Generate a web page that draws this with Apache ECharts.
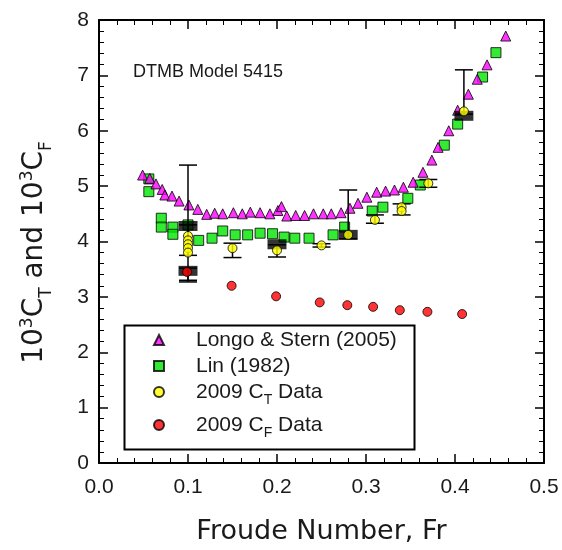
<!DOCTYPE html>
<html>
<head>
<meta charset="utf-8">
<script src="https://cdn.jsdelivr.net/npm/echarts@6/dist/echarts.min.js"></script>
<style>
html,body{margin:0;padding:0;background:#fff;}
#chart{width:562px;height:550px;}
</style>
</head>
<body>
<div id="chart"></div>
<script>
// ---- data (Froude number, 10^3 C) ----
var longoFr = [0.049,0.057,0.064,0.071,0.074,0.082,0.090,0.101,0.111,0.121,0.130,0.139,0.151,0.161,0.170,0.181,0.192,0.201,0.205,0.211,0.221,0.231,0.241,0.252,0.261,0.272,0.282,0.291,0.301,0.312,0.322,0.332,0.342,0.353,0.364,0.374,0.381,0.393,0.403,0.415,0.425,0.436,0.457];
var longoC  = [5.20,5.14,5.04,4.94,4.84,4.82,4.73,4.66,4.58,4.49,4.51,4.50,4.52,4.50,4.53,4.52,4.50,4.56,4.63,4.46,4.47,4.47,4.50,4.50,4.50,4.52,4.60,4.69,4.80,4.89,4.91,4.93,4.98,5.07,5.25,5.47,5.70,6.00,6.37,6.66,6.93,7.19,7.71];

var linFr = [0.056,0.056,0.070,0.070,0.083,0.083,0.100,0.112,0.127,0.139,0.153,0.167,0.181,0.195,0.208,0.220,0.236,0.263,0.276,0.307,0.319,0.347,0.361,0.388,0.403,0.431,0.446];
var linC  = [5.13,4.90,4.42,4.26,4.26,4.13,4.30,4.02,4.06,4.19,4.12,4.12,4.15,4.14,4.08,4.06,4.06,4.12,4.26,4.55,4.62,4.78,5.02,5.74,6.12,6.97,7.41];

var ctFr = [0.100,0.100,0.100,0.100,0.100,0.150,0.200,0.250,0.280,0.310,0.340,0.340,0.370,0.410];
var ctC  = [4.10,4.02,3.95,3.88,3.80,3.88,3.84,3.93,4.12,4.39,4.62,4.55,5.05,6.35];

var cfFr = [0.099,0.149,0.199,0.248,0.279,0.308,0.338,0.369,0.408];
var cfC  = [3.45,3.20,3.01,2.90,2.85,2.82,2.76,2.73,2.69];

// uncertainty bars (Fr, low, high)
var ebFr   = [0.100,0.100,0.150,0.200,0.250,0.280,0.310,0.340,0.370,0.410,0.100];
var ebLow  = [3.27,3.75,3.71,3.72,3.90,4.05,4.33,4.48,4.98,6.30,3.30];
var ebHigh = [5.38,4.30,3.97,3.94,3.96,4.93,4.48,4.68,5.12,7.10,3.52];

// black uncertainty boxes (Fr, value)
var boxFr = [0.100,0.200,0.280,0.410,0.100];
var boxC  = [4.28,3.95,4.12,6.27,3.47];

var xTicks = [0.0,0.1,0.2,0.3,0.4,0.5];
var yTicks = [0,1,2,3,4,5,6,7,8];

var names = ['Longo & Stern (2005)','Lin (1982)','2009 CT Data','2009 CF Data'];

function zip(a,b){ return a.map(function(v,i){ return [v,b[i]]; }); }

var chart = echarts.init(document.getElementById('chart'));
var FONT = '"Liberation Sans", Arial, sans-serif';
var TITLEFONT = '"DejaVu Sans", sans-serif';
var TXT = '#1a1a1a';

function axisBase(pos, showLabel, isX){
  return {
    type:'value',
    position: pos,
    min: isX ? xTicks[0] : yTicks[0],
    max: isX ? xTicks[xTicks.length-1] : yTicks[yTicks.length-1],
    interval: isX ? 0.1 : 1,
    axisLine:{show:true, onZero:false, lineStyle:{color:'#000', width:2}},
    axisTick:{show:true, inside:true, length:9, lineStyle:{color:'#000', width:1.5}},
    minorTick:{show:true, splitNumber:5, length:5, lineStyle:{color:'#000', width:1}},
    splitLine:{show:false},
    minorSplitLine:{show:false},
    axisLabel:{show:showLabel, fontFamily:FONT, fontSize:21, color:TXT,
      margin: isX ? 14 : 10,
      formatter: function(v){ return isX ? v.toFixed(1) : String(v); }}
  };
}

var xMain = axisBase('bottom', true, true);
xMain.name = 'Froude Number, Fr';
xMain.nameLocation = 'middle';
xMain.nameGap = 55;
xMain.nameTextStyle = {fontFamily:TITLEFONT, fontSize:27, color:TXT};
var xTop = axisBase('top', false, true);

var yMain = axisBase('left', true, false);
yMain.name = '10{sup|3}C{sub|T} and 10{sup|3}C{sub|F}';
yMain.nameLocation = 'middle';
yMain.nameGap = 44;
yMain.nameRotate = 90;
yMain.nameTextStyle = {fontFamily:TITLEFONT, fontSize:28, color:TXT, lineHeight:40,
  padding:[0,22,0,0],
  rich:{
    sup:{fontFamily:TITLEFONT, fontSize:17, color:TXT, verticalAlign:'top', lineHeight:40, padding:[4,0,0,0]},
    sub:{fontFamily:TITLEFONT, fontSize:17, color:TXT, verticalAlign:'bottom', lineHeight:40}
  }};
var yRight = axisBase('right', false, false);

function legendAt(name, top){
  return {
    data:[name],
    left:153, top:top,
    orient:'horizontal',
    itemWidth:10, itemHeight:10,
    selectedMode:false,
    padding:0,
    formatter:function(n){
      if(n==='2009 CT Data') return '{gap|}2009 C{sub|T} Data';
      if(n==='2009 CF Data') return '{gap|}2009 C{sub|F} Data';
      return '{gap|}' + n;
    },
    textStyle:{fontFamily:FONT, fontSize:21, color:TXT, lineHeight:30,
      rich:{
        gap:{width:27, lineHeight:30},
        sub:{fontFamily:FONT, fontSize:14, color:TXT, verticalAlign:'bottom', lineHeight:30}
      }}
  };
}

var option = {
  animation:false,
  backgroundColor:'#fff',
  grid:{left:99, right:18, top:20, bottom:87, containLabel:false},
  xAxis:[xMain, xTop],
  yAxis:[yMain, yRight],
  legend:[legendAt(names[0],325), legendAt(names[1],351), legendAt(names[2],377), legendAt(names[3],410)],
  graphic:[
    {type:'rect', left:122, top:323, shape:{width:290, height:124},
     style:{fill:'none', stroke:'#000', lineWidth:2}, z:1},
    {type:'text', left:133, top:63,
     style:{text:'DTMB Model 5415', font:'18px "Liberation Sans", Arial, sans-serif', fill:TXT}}
  ],
  series:[
    {name:names[1], type:'scatter', xAxisIndex:0, yAxisIndex:0, data:zip(linFr,linC),
     symbol:'rect', symbolSize:10, z:3,
     itemStyle:{color:'#00e600', borderColor:'#000', borderWidth:1}},
    {name:names[0], type:'scatter', data:zip(longoFr,longoC),
     symbol:'triangle', symbolSize:10, z:4,
     itemStyle:{color:'#ff00ff', borderColor:'#000', borderWidth:1}},
    {name:'uncertainty', type:'custom', z:5,
     data: ebFr.map(function(v,i){ return [v, ebLow[i], ebHigh[i]]; }),
     encode:{x:0, y:[1,2]},
     renderItem:function(params, api){
       var x = api.value(0);
       var lo = api.coord([x, api.value(1)]);
       var hi = api.coord([x, api.value(2)]);
       var w = 9;
       var st = {stroke:'#000', lineWidth:1.5};
       return {type:'group', children:[
         {type:'line', shape:{x1:lo[0], y1:lo[1], x2:hi[0], y2:hi[1]}, style:st},
         {type:'line', shape:{x1:lo[0]-w, y1:lo[1], x2:lo[0]+w, y2:lo[1]}, style:st},
         {type:'line', shape:{x1:hi[0]-w, y1:hi[1], x2:hi[0]+w, y2:hi[1]}, style:st}
       ]};
     }},
    {name:'boxes', type:'scatter', data:zip(boxFr,boxC), symbol:'rect', symbolSize:[19,10], z:6,
     itemStyle:{color:'#000'}},
    {name:names[2], type:'scatter', data:zip(ctFr,ctC),
     symbol:'circle', symbolSize:9, z:7,
     itemStyle:{color:'#ffff00', borderColor:'#000', borderWidth:1}},
    {name:names[3], type:'scatter', data:zip(cfFr,cfC),
     symbol:'circle', symbolSize:9, z:8,
     itemStyle:{color:'#ff0000', borderColor:'#000', borderWidth:1}}
  ]
};
chart.setOption(option);
</script>
</body>
</html>
